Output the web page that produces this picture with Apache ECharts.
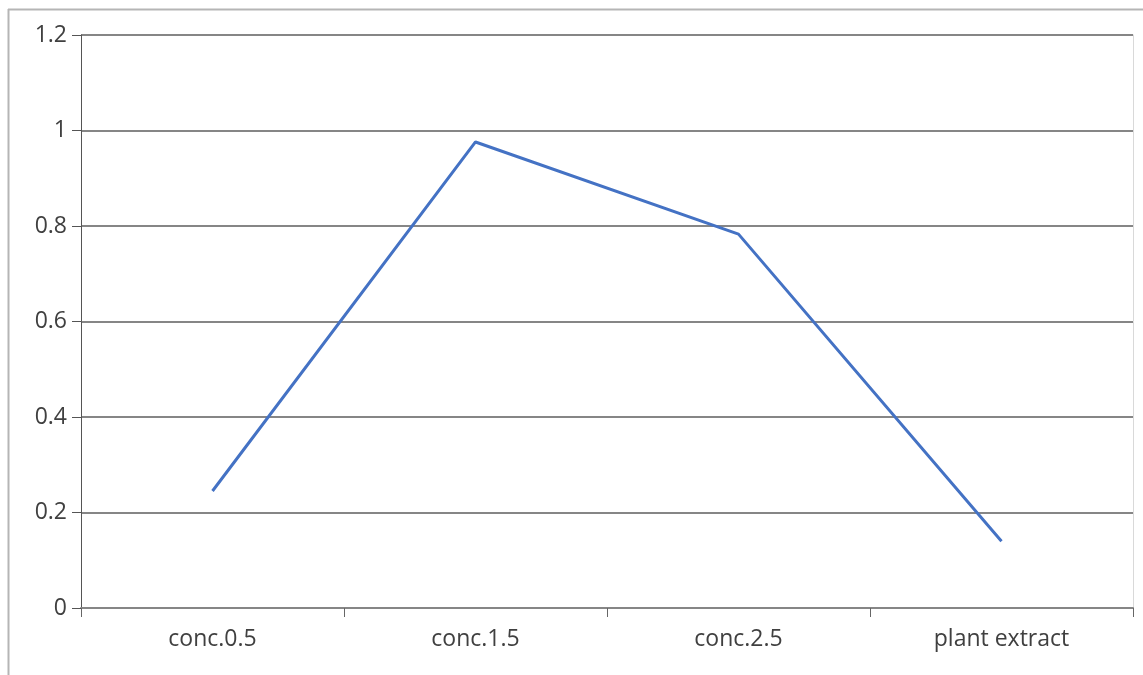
<!DOCTYPE html>
<html>
<head>
<meta charset="utf-8">
<style>
  html, body { margin: 0; padding: 0; background: #fff; }
  #chart { width: 1143px; height: 675px; }
</style>
<script src="https://cdn.jsdelivr.net/npm/echarts@6/dist/echarts.min.js"></script>
</head>
<body>
<div id="chart"></div>
<script>
// Categories and measured values
const categories = ['conc.0.5', 'conc.1.5', 'conc.2.5', 'plant extract'];
const values = [0.245, 0.976, 0.783, 0.140];
const yTicks = { min: 0, max: 1.2, interval: 0.2 };

const chart = echarts.init(document.getElementById('chart'), null, { renderer: 'canvas' });

const labelFont = { fontFamily: '"Open Sans", "Noto Sans", sans-serif', fontSize: 23, color: '#404040' };

chart.setOption({
  animation: false,
  backgroundColor: '#ffffff',
  grid: { left: 81, right: 10, top: 35, bottom: 67, containLabel: false },
  graphic: [
    // outer chart frame (left and top edges)
    { type: 'line', shape: { x1: 8.5, y1: 9, x2: 8.5, y2: 675 }, style: { stroke: '#b5b5b5', lineWidth: 2 } },
    { type: 'line', shape: { x1: 8, y1: 9.5, x2: 1143, y2: 9.5 }, style: { stroke: '#b5b5b5', lineWidth: 2 } }
  ],
  xAxis: {
    type: 'category',
    data: categories,
    boundaryGap: true,
    axisLine: { show: true, lineStyle: { color: '#868686', width: 2 } },
    axisTick: { show: true, length: 9, alignWithLabel: false, lineStyle: { color: '#666', width: 1 } },
    axisLabel: Object.assign({ margin: 20 }, labelFont),
    splitLine: { show: false }
  },
  yAxis: [{
    type: 'value',
    min: yTicks.min,
    max: yTicks.max,
    interval: yTicks.interval,
    axisLine: { show: true, lineStyle: { color: '#555', width: 1 } },
    axisTick: { show: true, length: 9, lineStyle: { color: '#555', width: 1 } },
    axisLabel: Object.assign({ margin: 14, formatter: v => String(+v.toFixed(1)) }, labelFont),
    splitLine: { show: true, lineStyle: { color: '#868686', width: 2 } }
  }, {
    type: 'value',
    position: 'right',
    min: yTicks.min,
    max: yTicks.max,
    interval: yTicks.interval,
    axisLine: { show: true, lineStyle: { color: '#d9d9d9', width: 1 } },
    axisTick: { show: false },
    axisLabel: { show: false },
    splitLine: { show: false }
  }],
  series: [{
    type: 'line',
    data: values,
    symbol: 'none',
    lineStyle: { color: '#4472C4', width: 3 },
    itemStyle: { color: '#4472C4' }
  }]
});
</script>
</body>
</html>
